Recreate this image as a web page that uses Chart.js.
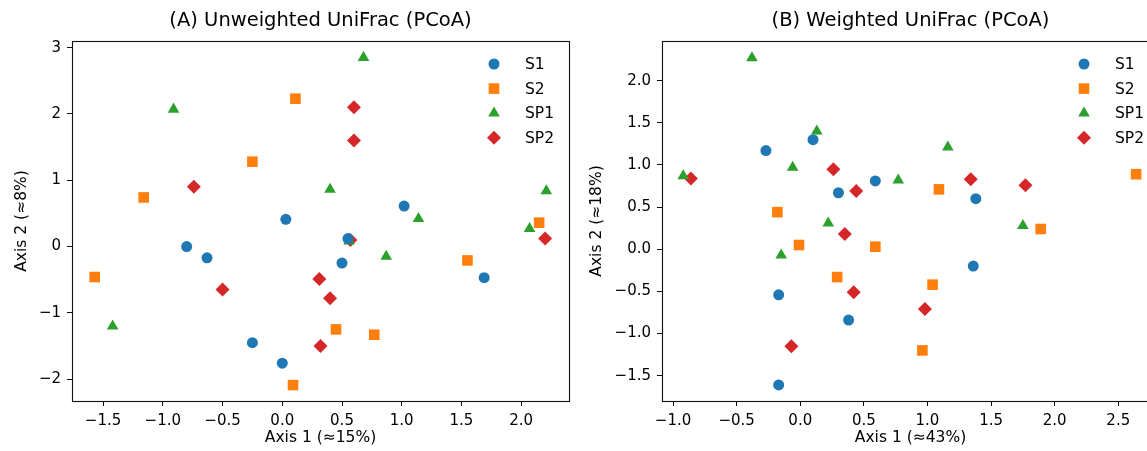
<!DOCTYPE html>
<html>
<head>
<meta charset="utf-8">
<script src="https://cdn.jsdelivr.net/npm/chart.js@4.4.1/dist/chart.umd.min.js"></script>
<style>
html,body{margin:0;padding:0;overflow:hidden;background:#fff;}
#wrap{position:relative;width:1147px;height:451px;overflow:hidden;}
canvas{position:absolute;top:0;}
#cA{left:0;width:580px;height:451px;}
#cB{left:570px;width:600px;height:451px;}
</style>
</head>
<body>
<div id="wrap">
  <canvas id="cA" width="580" height="451"></canvas>
  <canvas id="cB" width="600" height="451"></canvas>
</div>
<script>
// PCoA scatter, two panels: unweighted / weighted UniFrac

const groups = ['S1', 'S2', 'SP1', 'SP2'];
const colors = ['#1f77b4', '#ff7f0e', '#2ca02c', '#d62728'];
const styles = ['circle', 'rect', 'triangle', 'rectRot'];
const radii  = [5.5, 7.5, 6.7, 7];

// (A) unweighted, [axis1, axis2]
const unwS1  = [[0.03,0.41],[1.02,0.61],[-0.80,0.00],[-0.63,-0.17],[-0.25,-1.45],[0.00,-1.76],[0.55,0.12],[0.50,-0.25],[1.69,-0.47]];
const unwS2  = [[0.11,2.23],[-0.25,1.28],[-1.16,0.74],[-1.57,-0.46],[0.09,-2.09],[0.45,-1.25],[0.77,-1.33],[1.55,-0.21],[2.15,0.36]];
const unwSP1 = [[-0.91,2.07],[0.68,2.85],[0.40,0.86],[2.21,0.84],[-1.42,-1.20],[1.14,0.42],[0.56,0.08],[0.87,-0.15],[2.07,0.27]];
const unwSP2 = [[-0.74,0.90],[0.60,2.10],[0.60,1.60],[-0.50,-0.65],[0.31,-0.49],[0.40,-0.78],[0.32,-1.50],[0.57,0.10],[2.20,0.12]];

// (B) weighted
const wS1  = [[0.10,1.30],[-0.27,1.17],[0.59,0.81],[0.30,0.67],[1.38,0.60],[-0.17,-0.54],[0.38,-0.84],[-0.17,-1.61],[1.36,-0.20]];
const wS2  = [[-0.18,0.44],[1.09,0.71],[2.64,0.89],[-0.01,0.05],[0.59,0.03],[0.29,-0.33],[1.89,0.24],[1.04,-0.42],[0.96,-1.20]];
const wSP1 = [[-0.38,2.27],[0.13,1.40],[-0.06,0.97],[-0.92,0.87],[0.77,0.82],[1.16,1.21],[0.22,0.31],[-0.15,-0.07],[1.75,0.28]];
const wSP2 = [[-0.86,0.84],[0.26,0.95],[0.44,0.69],[1.34,0.83],[1.77,0.76],[0.35,0.18],[0.42,-0.51],[-0.07,-1.15],[0.98,-0.71]];

// tick labels
const xTicksA = [-1.5, -1.0, -0.5, 0.0, 0.5, 1.0, 1.5, 2.0];
const yTicksA = [-2, -1, 0, 1, 2, 3];
const xTicksB = [-1.0, -0.5, 0.0, 0.5, 1.0, 1.5, 2.0, 2.5];
const yTicksB = [-1.5, -1.0, -0.5, 0.0, 0.5, 1.0, 1.5, 2.0];

const FONT = "'DejaVu Sans', sans-serif";

function fmt(dec){
  return v => (dec ? Number(v).toFixed(dec) : String(Math.round(v))).replace('-', '\u2212');
}

function makeSets(series){
  return series.map((pts, i) => ({
    label: groups[i],
    data: pts.map(p => ({x: p[0], y: p[1]})),
    backgroundColor: colors[i],
    borderWidth: 0,
    pointStyle: styles[i],
    pointRadius: radii[i],
    pointHoverRadius: radii[i]
  }));
}

// title over the axes, black frame, legend in the upper right
const panelDeco = {
  id: 'panelDeco',
  afterDraw(chart, args, opts){
    const ctx = chart.ctx, ca = chart.chartArea;
    ctx.save();
    ctx.strokeStyle = '#111';
    ctx.lineWidth = 1.1;
    ctx.strokeRect(Math.round(ca.left) + 0.5, Math.round(ca.top) + 0.5,
                   Math.round(ca.right - ca.left), Math.round(ca.bottom - ca.top));

    ctx.fillStyle = '#000';
    ctx.font = '19.5px ' + FONT;
    ctx.textAlign = 'center';
    ctx.textBaseline = 'middle';
    ctx.fillText(opts.title, (ca.left + ca.right) / 2, 21);

    ctx.font = '15.5px ' + FONT;
    ctx.textAlign = 'left';
    chart.data.datasets.forEach((ds, i) => {
      const y = ca.top + 23 + i * 24.6;
      const mx = ca.right - 75;
      ctx.fillStyle = ds.backgroundColor;
      if (Chart.helpers && Chart.helpers.drawPoint) {
        Chart.helpers.drawPoint(ctx, {pointStyle: ds.pointStyle, radius: ds.pointRadius, borderWidth: 0, rotation: 0}, mx, y);
      } else {
        ctx.beginPath(); ctx.arc(mx, y, 5.5, 0, Math.PI * 2); ctx.fill();
      }
      ctx.fillStyle = '#000';
      ctx.fillText(ds.label, ca.right - 44, y + 1);
    });
    ctx.restore();
  }
};

function axes(xr, yr, xt, yt, xdec, ydec, xlab, ylab, yw, yTitlePad){
  const grid = {drawOnChartArea: false, drawTicks: true, tickLength: 5, color: '#111', lineWidth: 1};
  return {
    x: {
      type: 'linear', min: xr[0], max: xr[1],
      afterBuildTicks: s => { s.ticks = xt.map(v => ({value: v})); },
      afterFit: s => { s.height = 50; },
      grid: grid, border: {display: false},
      ticks: {color: '#000', font: {family: FONT, size: 15}, padding: 6, maxRotation: 0, autoSkip: false, callback: fmt(xdec)},
      title: {display: true, text: xlab, color: '#000', font: {family: FONT, size: 15.5}, padding: {top: 0, bottom: 4}}
    },
    y: {
      type: 'linear', min: yr[0], max: yr[1],
      afterBuildTicks: s => { s.ticks = yt.map(v => ({value: v})); },
      afterFit: s => { s.width = yw; },
      grid: grid, border: {display: false},
      ticks: {color: '#000', font: {family: FONT, size: 15}, padding: 6, autoSkip: false, callback: fmt(ydec)},
      title: {display: true, text: ylab, color: '#000', font: {family: FONT, size: 15.5}, padding: {top: yTitlePad, bottom: 0}}
    }
  };
}

function makeChart(id, title, series, scales){
  return new Chart(document.getElementById(id), {
    type: 'scatter',
    data: {datasets: makeSets(series)},
    options: {
      responsive: false,
      animation: false,
      events: [],
      layout: {padding: {top: 41, right: 11, left: 0, bottom: 0}},
      plugins: {legend: {display: false}, tooltip: {enabled: false}, title: {display: false}, panelDeco: {title: title}},
      scales: scales
    },
    plugins: [panelDeco]
  });
}

makeChart('cA', '(A) Unweighted UniFrac (PCoA)', [unwS1, unwS2, unwSP1, unwSP2],
  axes([-1.76, 2.40], [-2.33, 3.10], xTicksA, yTicksA, 1, 0, 'Axis 1 (\u224815%)', 'Axis 2 (\u22488%)', 72, 12.7));

makeChart('cB', '(B) Weighted UniFrac (PCoA)', [wS1, wS2, wSP1, wSP2],
  axes([-1.087, 2.82], [-1.80, 2.47], xTicksB, yTicksB, 1, 1, 'Axis 1 (\u224843%)', 'Axis 2 (\u224818%)', 92, 17.5));
</script>
</body>
</html>
